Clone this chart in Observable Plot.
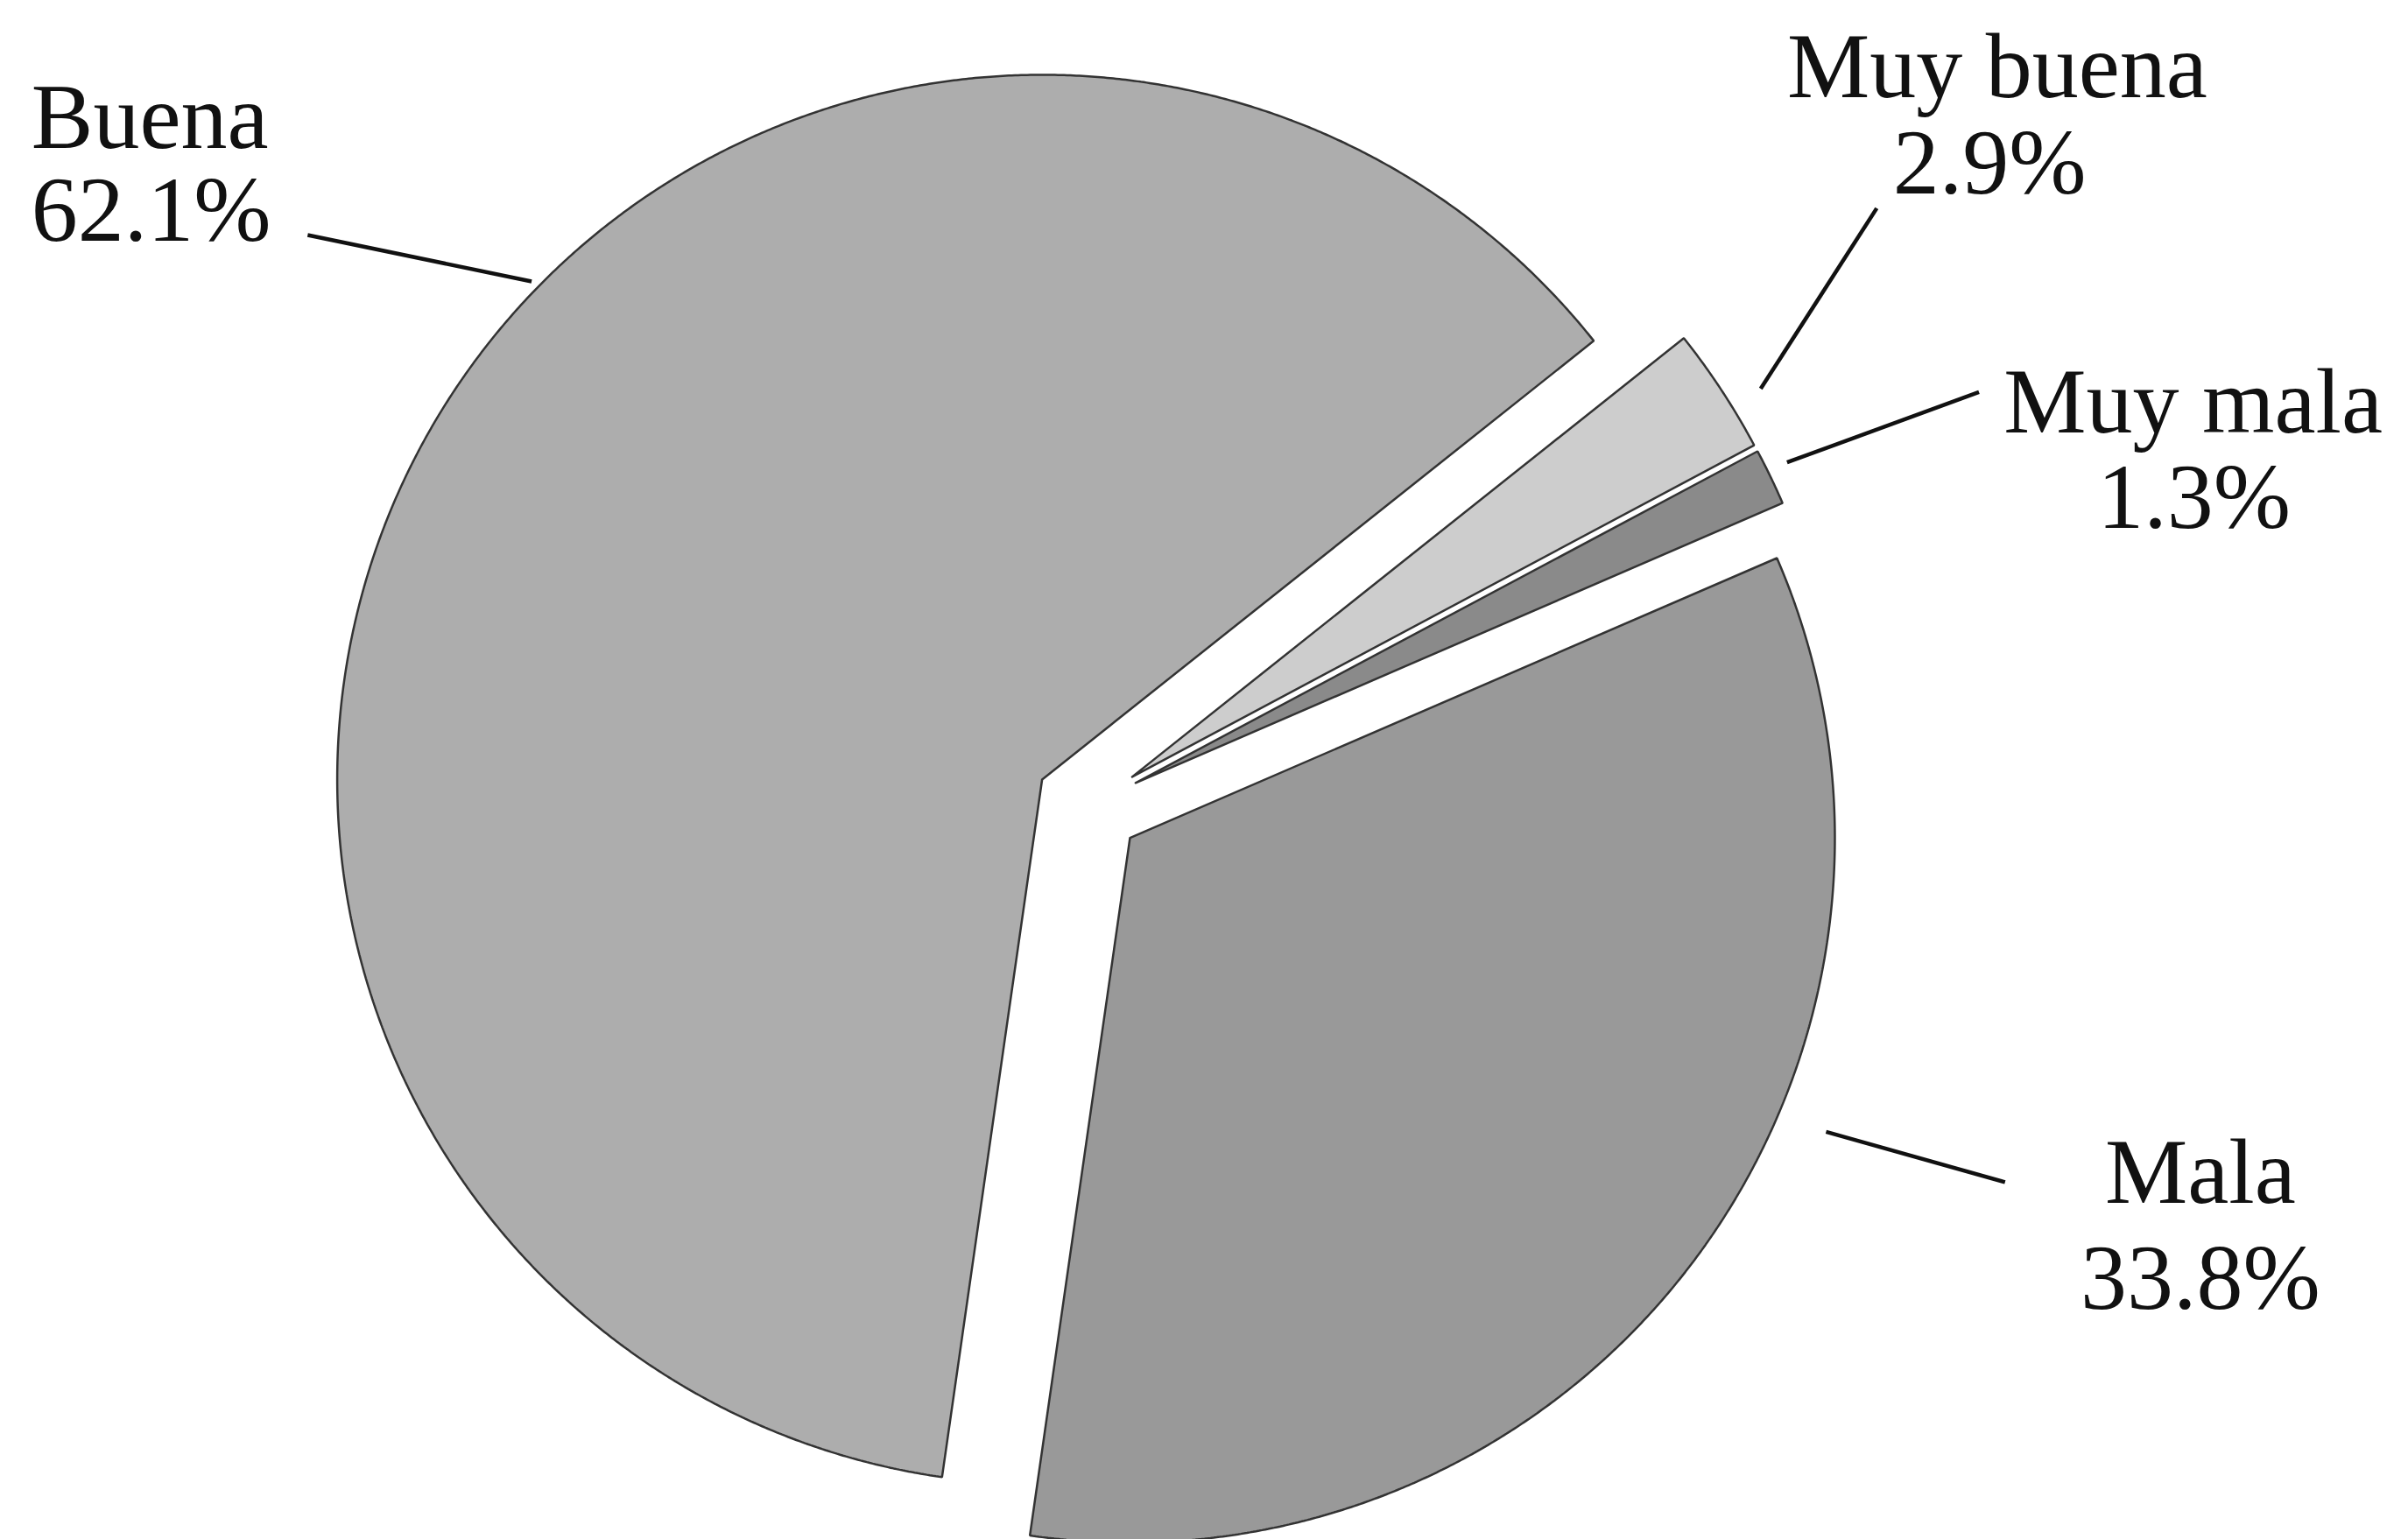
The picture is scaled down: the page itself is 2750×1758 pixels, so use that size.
<!DOCTYPE html>
<html>
<head>
<meta charset="utf-8">
<script src="https://cdn.jsdelivr.net/npm/d3@7"></script>
<script src="https://cdn.jsdelivr.net/npm/@observablehq/plot@0.6"></script>
<style>
  html, body { margin: 0; padding: 0; background: #fff; overflow: hidden; }
</style>
</head>
<body>
<div id="chart"></div>
<script>
// Survey answers, clockwise from the first slice
const categories = ["Muy buena", "Muy mala", "Mala", "Buena"];
const shares = [2.9, 1.3, 33.8, 62.1];
const percentLabels = ["2.9%", "1.3%", "33.8%", "62.1%"];

// Slice shading (same order as categories)
const sliceFills = ["#cdcdcd", "#8a8a8a", "#999999", "#adadad"];

// Canvas and pie layout (pie units: radius = 1, y pointing up)
const W = 2750, H = 1758;
const center = { x: 1242, y: 920 };
const radiusPx = 805;
const startDeg = 51.5;     // angle of the first slice, clockwise from 12 o'clock
const explode = 0.075;     // every slice is pulled out by this fraction of the radius

// Label and leader placement per category, in pie units
const labelLayout = [
  { name: "Muy buena", anchor: "middle", nameAt: [1.290, 1.005], pctAt: [1.279, 0.869], leaderDeg: 58.3, leaderR: 1.048, leaderEnd: [1.119, 0.848] },
  { name: "Muy mala",  anchor: "middle", nameAt: [1.568, 0.530], pctAt: [1.569, 0.394], leaderDeg: 63.8, leaderR: 1.030, leaderEnd: [1.264, 0.587] },
  { name: "Mala",      anchor: "middle", nameAt: [1.578, -0.563], pctAt: [1.578, -0.714], leaderDeg: 112.9, leaderR: 1.072, leaderEnd: [1.301, -0.534] },
  { name: "Buena",     anchor: "start",  nameAt: [-1.499, 0.934], pctAt: [-1.499, 0.802], leaderDeg: 314.3, leaderR: 1.012, leaderEnd: [-1.107, 0.810] }
];

const rad = Math.PI / 180;
const pie = d3.pie().sort(null)
  .startAngle(startDeg * rad)
  .endAngle(startDeg * rad + 2 * Math.PI);
const arcs = pie(shares);

// Each slice as a closed outline: exploded apex, arc, back to apex
const slices = arcs.map((a, i) => {
  const mid = (a.startAngle + a.endAngle) / 2;
  const ox = explode * Math.sin(mid), oy = explode * Math.cos(mid);
  const pts = [{ x: ox, y: oy }];
  const steps = Math.max(2, Math.ceil((a.endAngle - a.startAngle) / (Math.PI / 720)));
  for (let k = 0; k <= steps; k++) {
    const t = a.startAngle + (a.endAngle - a.startAngle) * k / steps;
    pts.push({ x: ox + Math.sin(t), y: oy + Math.cos(t) });
  }
  pts.push({ x: ox, y: oy });
  return { name: categories[i], fill: sliceFills[i], ox, oy, pts };
});

// Leader lines start just outside each slice's rim
const leaders = labelLayout.map(l => {
  const s = slices[categories.indexOf(l.name)];
  const t = l.leaderDeg * rad;
  return {
    x1: s.ox + l.leaderR * Math.sin(t), y1: s.oy + l.leaderR * Math.cos(t),
    x2: l.leaderEnd[0], y2: l.leaderEnd[1]
  };
});

// Text rows: category name and its percentage
const textRows = labelLayout.flatMap(l => {
  const i = categories.indexOf(l.name);
  return [
    { x: l.nameAt[0], y: l.nameAt[1], text: categories[i], anchor: l.anchor },
    { x: l.pctAt[0], y: l.pctAt[1], text: percentLabels[i], anchor: l.anchor }
  ];
});

const textStyle = { fontSize: 106, fontFamily: "Liberation Serif, Times New Roman, serif", fill: "#111", lineAnchor: "bottom" };

const chart = Plot.plot({
  width: W,
  height: H,
  margin: 0,
  x: { domain: [(0 - center.x) / radiusPx, (W - center.x) / radiusPx], axis: null },
  y: { domain: [(center.y - H) / radiusPx, center.y / radiusPx], axis: null },
  style: { background: "#fff" },
  marks: [
    ...slices.map(s => Plot.line(s.pts, {
      x: "x", y: "y", fill: s.fill, stroke: "#333", strokeWidth: 2.5, strokeLinejoin: "miter", curve: "linear"
    })),
    Plot.link(leaders, { x1: "x1", y1: "y1", x2: "x2", y2: "y2", stroke: "#111", strokeWidth: 4.5 }),
    Plot.text(textRows.filter(d => d.anchor === "start"), { x: "x", y: "y", text: "text", textAnchor: "start", ...textStyle }),
    Plot.text(textRows.filter(d => d.anchor === "middle"), { x: "x", y: "y", text: "text", textAnchor: "middle", ...textStyle })
  ]
});

document.getElementById("chart").append(chart);
</script>
</body>
</html>
